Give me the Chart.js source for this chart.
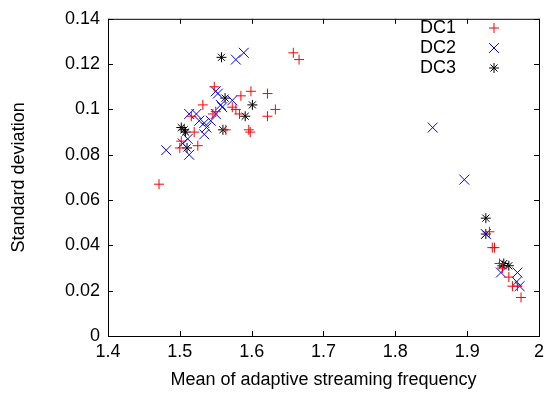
<!DOCTYPE html>
<html>
<head>
<meta charset="utf-8">
<script src="https://cdn.jsdelivr.net/npm/chart.js@4/dist/chart.umd.min.js"></script>
<style>
  html, body { margin: 0; padding: 0; background: #fff; }
  #wrap { width: 549px; height: 396px; }
</style>
</head>
<body>
<div id="wrap"><canvas id="myChart" width="549" height="396"></canvas></div>
<script>
const seriesNames = ['DC1', 'DC2', 'DC3'];

const dc1Mean = [1.471, 1.658, 1.666, 1.548, 1.599, 1.622, 1.585, 1.633, 1.622, 1.573, 1.578, 1.583,
  1.596, 1.598, 1.532, 1.546, 1.502, 1.500, 1.525, 1.520, 1.516, 1.564, 1.550,
  1.931, 1.935, 1.938, 1.945, 1.949, 1.958, 1.963, 1.970, 1.975];
const dc1Std = [0.067, 0.125, 0.122, 0.110, 0.108, 0.107, 0.106, 0.100, 0.097, 0.101, 0.100, 0.098,
  0.091, 0.090, 0.102, 0.098, 0.086, 0.083, 0.084, 0.090, 0.097, 0.091, 0.099,
  0.046, 0.039, 0.039, 0.032, 0.030, 0.026, 0.022, 0.022, 0.017];

const dc2Mean = [1.481, 1.513, 1.504, 1.511, 1.513, 1.523, 1.527, 1.534, 1.534, 1.543, 1.537, 1.550,
  1.550, 1.559, 1.573, 1.557, 1.553, 1.578, 1.589, 1.852, 1.896, 1.926, 1.947, 1.970, 1.973, 1.969];
const dc2Std = [0.082, 0.080, 0.085, 0.087, 0.098, 0.098, 0.095, 0.094, 0.089, 0.095, 0.092, 0.098,
  0.108, 0.101, 0.104, 0.102, 0.107, 0.122, 0.125, 0.092, 0.069, 0.045, 0.028, 0.028, 0.022, 0.024];

const dc3Mean = [1.558, 1.502, 1.506, 1.508, 1.510, 1.560, 1.591, 1.601, 1.563, 1.926, 1.926, 1.951, 1.949, 1.958];
const dc3Std = [0.123, 0.092, 0.091, 0.090, 0.083, 0.091, 0.097, 0.102, 0.105, 0.052, 0.045, 0.032, 0.031, 0.031];

const xTicks = [1.4, 1.5, 1.6, 1.7, 1.8, 1.9, 2];
const yTicks = [0, 0.02, 0.04, 0.06, 0.08, 0.1, 0.12, 0.14];

const toPoints = (xs, ys) => xs.map((x, i) => ({ x: x, y: ys[i] }));
const fmt = v => String(+Number(v).toFixed(3));
const FONT = 'Liberation Sans, Arial, sans-serif';

// gnuplot style frame with inward ticks on all four sides
const framePlugin = {
  id: 'frame',
  afterDraw(c) {
    const { ctx, chartArea: a, scales } = c;
    ctx.save();
    ctx.strokeStyle = '#000';
    ctx.lineWidth = 1;
    ctx.strokeRect(a.left + 0.5, a.top + 0.5, a.right - a.left, a.bottom - a.top);
    ctx.beginPath();
    xTicks.forEach(v => {
      const px = Math.round(scales.x.getPixelForValue(v)) + 0.5;
      ctx.moveTo(px, a.bottom); ctx.lineTo(px, a.bottom - 5);
      ctx.moveTo(px, a.top); ctx.lineTo(px, a.top + 5);
    });
    yTicks.forEach(v => {
      const py = Math.round(scales.y.getPixelForValue(v)) + 0.5;
      ctx.moveTo(a.left, py); ctx.lineTo(a.left + 5, py);
      ctx.moveTo(a.right, py); ctx.lineTo(a.right - 5, py);
    });
    ctx.stroke();

    // key: text right aligned, sample to the right
    ctx.font = '18px ' + FONT;
    ctx.fillStyle = '#000';
    ctx.textAlign = 'right';
    ctx.textBaseline = 'middle';
    c.data.datasets.forEach((ds, i) => {
      const y = 28 + i * 20;
      ctx.fillText(ds.label, 456, y);
      ctx.strokeStyle = ds.borderColor;
      ctx.lineWidth = 1;
      Chart.helpers.drawPoint(ctx, { pointStyle: ds.pointStyle, radius: ds.pointRadius, rotation: 0, borderWidth: 1 }, 494, y);
    });
    ctx.restore();
  }
};

const ctx = document.getElementById('myChart').getContext('2d');
const chart = new Chart(ctx, {
  type: 'scatter',
  data: {
    datasets: [
      { label: seriesNames[0], data: toPoints(dc1Mean, dc1Std), pointStyle: 'cross', pointRadius: 5,
        borderColor: '#ff0000', backgroundColor: '#ff0000', borderWidth: 1 },
      { label: seriesNames[1], data: toPoints(dc2Mean, dc2Std), pointStyle: 'crossRot', pointRadius: 7,
        borderColor: '#0000ff', backgroundColor: '#0000ff', borderWidth: 1 },
      { label: seriesNames[2], data: toPoints(dc3Mean, dc3Std), pointStyle: 'star', pointRadius: 5,
        borderColor: '#000000', backgroundColor: '#000000', borderWidth: 1 }
    ]
  },
  options: {
    responsive: false,
    animation: false,
    layout: { padding: { top: 14, right: 7, left: 0, bottom: 0 } },
    plugins: { legend: { display: false }, tooltip: { enabled: false } },
    elements: { point: { hoverRadius: 5 } },
    scales: {
      x: {
        type: 'linear', min: 1.4, max: 2,
        afterBuildTicks: s => { s.ticks = xTicks.map(v => ({ value: v })); },
        afterFit: s => { s.height = 60; },
        grid: { display: false, drawTicks: false },
        border: { display: false },
        ticks: { color: '#000', padding: 5, maxRotation: 0, font: { family: FONT, size: 18 }, callback: fmt },
        title: { display: true, text: 'Mean of adaptive streaming frequency', color: '#000',
          font: { family: FONT, size: 18 }, padding: { top: 0, bottom: 5 } }
      },
      y: {
        type: 'linear', min: 0, max: 0.14,
        afterBuildTicks: s => { s.ticks = yTicks.map(v => ({ value: v })); },
        afterFit: s => { s.width = 108; },
        grid: { display: false, drawTicks: false },
        border: { display: false },
        ticks: { color: '#000', padding: 8, font: { family: FONT, size: 18 }, callback: fmt },
        title: { display: true, text: 'Standard deviation', color: '#000',
          font: { family: FONT, size: 18 }, padding: { top: 8, bottom: 0 } }
      }
    }
  },
  plugins: [framePlugin]
});
</script>
</body>
</html>
